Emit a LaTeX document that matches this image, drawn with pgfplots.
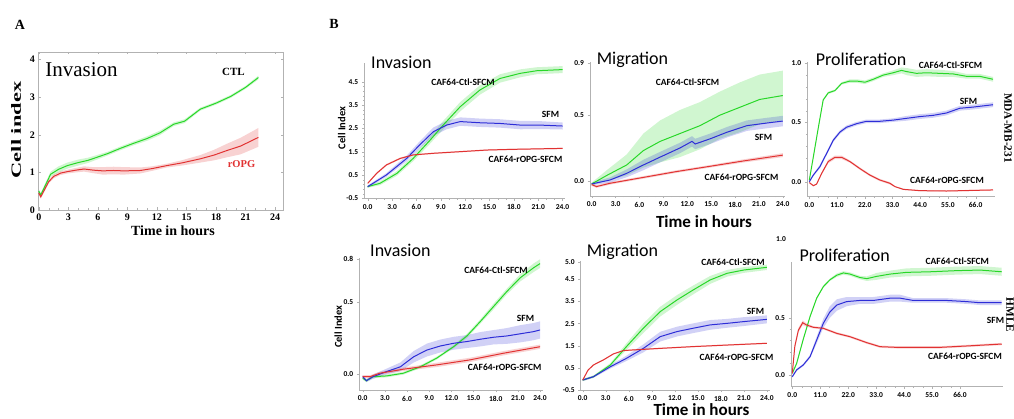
\documentclass[border=0pt]{standalone}
\usepackage{fontspec}
\setmainfont{Carlito}
\newfontfamily\tnr{Liberation Serif}
\usepackage{graphicx}
\usepackage{pgfplots}
\usepgfplotslibrary{fillbetween}
\pgfplotsset{compat=1.18}
\usepackage{pgfplotstable}

\definecolor{cgreen}{RGB}{40,215,40}
\definecolor{cblue}{RGB}{45,45,215}
\definecolor{cred}{RGB}{225,50,50}

% panel A
\pgfplotstableread{
t y e
0 0.50 0.05
0.2 0.40 0.05
0.6 0.62 0.06
1.2 0.95 0.07
2.0 1.08 0.08
2.9 1.18 0.08
4.0 1.26 0.08
5.0 1.32 0.07
5.9 1.40 0.06
7.0 1.50 0.05
8.3 1.64 0.05
9.5 1.76 0.05
11.0 1.90 0.06
12.3 2.05 0.06
13.7 2.28 0.05
14.8 2.36 0.05
16.4 2.68 0.04
18.0 2.84 0.04
19.5 3.02 0.04
21.0 3.26 0.04
22.3 3.52 0.05
}\AG
\pgfplotstableread{
t y e
0 0.45 0.05
0.2 0.35 0.05
0.5 0.50 0.05
1.0 0.75 0.05
1.5 0.89 0.05
2.2 0.98 0.05
2.9 1.02 0.05
3.8 1.06 0.06
4.6 1.09 0.07
5.5 1.06 0.08
6.5 1.04 0.10
7.6 1.05 0.10
8.6 1.04 0.10
10.3 1.05 0.08
11.5 1.10 0.06
13.0 1.18 0.05
14.5 1.25 0.07
16.4 1.36 0.10
17.8 1.46 0.14
19.1 1.58 0.18
20.5 1.70 0.22
22.3 1.93 0.25
}\AR

% B, top left: invasion
\pgfplotstableread{
t y e
0 0.0 0.05
1.5 0.14 0.08
3.6 0.57 0.10
5.6 1.21 0.12
7.7 2.00 0.15
9.3 2.64 0.18
11.4 3.43 0.20
13.8 4.14 0.20
16.3 4.64 0.18
18.8 4.86 0.17
20.8 4.97 0.15
24.0 5.02 0.15
}\IaG
\pgfplotstableread{
t y e
0 0.0 0.05
2.3 0.50 0.08
4.8 1.21 0.12
6.4 1.79 0.15
8.1 2.36 0.18
9.7 2.64 0.18
11.4 2.79 0.18
13.8 2.74 0.18
16.3 2.71 0.18
18.8 2.64 0.18
21.2 2.64 0.17
24.0 2.60 0.15
}\IaB
\pgfplotstableread{
t y e
0 0.14 0.03
1.1 0.57 0.04
2.3 0.93 0.04
4.0 1.21 0.04
5.6 1.36 0.03
8.1 1.43 0.03
11.4 1.50 0.03
14.7 1.57 0.03
17.9 1.60 0.03
24.0 1.64 0.03
}\IaR

% B, top middle: migration
\pgfplotstableread{
t y e
0 -0.025 0.01
1.9 0.04 0.04
4.4 0.12 0.08
6.5 0.23 0.13
8.6 0.30 0.16
11.1 0.36 0.18
13.6 0.42 0.18
16.1 0.50 0.18
18.6 0.56 0.19
21.1 0.62 0.19
24.0 0.65 0.19
}\MaG
\pgfplotstableread{
t y e
0 -0.025 0.01
2.3 0.005 0.02
4.4 0.056 0.03
6.5 0.12 0.04
8.6 0.18 0.04
11.1 0.25 0.04
12.6 0.30 0.04
13.0 0.28 0.04
14.9 0.32 0.04
17.0 0.37 0.04
19.5 0.42 0.04
22.0 0.44 0.04
24.0 0.455 0.04
}\MaB
\pgfplotstableread{
t y e
0 -0.03 0.01
0.6 -0.045 0.01
2.3 -0.02 0.01
6.5 0.025 0.01
10.7 0.07 0.01
14.9 0.11 0.01
19.0 0.15 0.012
24.0 0.195 0.015
}\MaR

% B, top right: proliferation
\pgfplotstableread{
t y e
0 0.014 0.01
1.6 0.21 0.01
3.6 0.46 0.01
5.5 0.69 0.01
7.5 0.75 0.01
10.2 0.77 0.01
12.8 0.83 0.01
16.1 0.85 0.015
18.8 0.85 0.015
22.1 0.84 0.015
25.4 0.865 0.015
29.3 0.90 0.015
33.3 0.92 0.02
36.6 0.94 0.025
38.6 0.93 0.03
42.5 0.915 0.03
46.5 0.92 0.03
51.8 0.915 0.03
57.1 0.91 0.025
62.4 0.89 0.02
67.6 0.89 0.02
72.9 0.865 0.02
}\PaG
\pgfplotstableread{
t y e
0 0.0 0.01
1.6 0.056 0.01
4.2 0.127 0.015
6.9 0.24 0.015
9.5 0.35 0.015
12.2 0.42 0.015
14.8 0.46 0.015
18.8 0.49 0.015
22.7 0.51 0.015
28.0 0.51 0.015
33.3 0.52 0.015
38.6 0.535 0.02
43.9 0.55 0.02
49.1 0.56 0.02
54.4 0.58 0.02
59.7 0.62 0.02
65.0 0.63 0.02
72.9 0.65 0.02
}\PaB
\pgfplotstableread{
t y e
0 -0.008 0.005
1.6 -0.034 0.005
2.9 -0.02 0.005
4.9 0.07 0.01
7.5 0.17 0.015
10.2 0.206 0.015
12.8 0.206 0.015
16.1 0.17 0.01
20.1 0.11 0.01
24.0 0.056 0.01
28.0 0.014 0.01
32.0 -0.014 0.01
34.0 -0.042 0.005
37.3 -0.065 0.005
43.9 -0.076 0.005
54.4 -0.079 0.005
72.9 -0.07 0.005
}\PaR

% B, bottom left: invasion
\pgfplotstableread{
t y e
0 -0.03 0.01
0.5 -0.047 0.01
1.4 -0.019 0.01
3.2 -0.014 0.01
5.5 0.005 0.01
7.8 0.05 0.01
10.0 0.11 0.01
12.3 0.19 0.01
14.1 0.265 0.015
15.9 0.365 0.015
17.7 0.47 0.02
19.5 0.575 0.02
21.3 0.67 0.025
23.1 0.74 0.03
24.0 0.77 0.03
}\IbG
\pgfplotstableread{
t y e
0 -0.019 0.01
0.5 -0.047 0.01
1.4 -0.019 0.015
3.2 0.016 0.02
5.1 0.05 0.03
6.9 0.12 0.04
8.7 0.167 0.045
10.5 0.195 0.045
12.3 0.214 0.045
14.1 0.226 0.045
15.9 0.242 0.05
17.7 0.256 0.05
19.5 0.265 0.055
21.3 0.28 0.06
23.1 0.295 0.06
24.0 0.307 0.06
}\IbB
\pgfplotstableread{
t y e
0 -0.019 0.01
1.0 -0.019 0.01
2.3 0.005 0.01
5.5 0.033 0.012
10.0 0.063 0.015
14.5 0.098 0.015
19.0 0.144 0.015
24.0 0.19 0.015
}\IbR

% B, bottom middle: migration
\pgfplotstableread{
t y e
0 -0.05 0.05
1.4 0.10 0.05
3.6 0.63 0.08
5.7 1.46 0.15
7.9 2.29 0.22
10.1 3.04 0.22
12.3 3.57 0.22
14.4 4.02 0.20
16.6 4.47 0.18
18.8 4.77 0.15
21.0 4.92 0.13
24.0 5.04 0.12
}\MbG
\pgfplotstableread{
t y e
0 -0.05 0.05
1.4 0.10 0.05
3.6 0.55 0.08
5.7 0.93 0.12
7.9 1.38 0.18
10.1 1.91 0.22
12.3 2.14 0.22
14.4 2.29 0.22
16.6 2.44 0.22
18.8 2.51 0.20
21.0 2.59 0.20
24.0 2.69 0.18
}\MbB
\pgfplotstableread{
t y e
0 -0.05 0.03
0.7 0.40 0.03
1.4 0.63 0.03
2.7 0.86 0.03
4.0 1.13 0.03
5.3 1.28 0.03
6.6 1.31 0.03
10.1 1.38 0.03
14.4 1.46 0.03
18.8 1.53 0.03
24.0 1.61 0.03
}\MbR

% B, bottom right: proliferation
\pgfplotstableread{
t y e
0 0.015 0.01
1.7 0.10 0.01
4.3 0.31 0.01
7.0 0.51 0.01
9.6 0.67 0.01
12.2 0.77 0.01
14.8 0.83 0.01
17.5 0.87 0.015
20.1 0.89 0.015
22.7 0.88 0.015
26.6 0.85 0.015
29.3 0.84 0.02
33.2 0.86 0.03
38.5 0.88 0.03
45.0 0.895 0.035
54.2 0.90 0.035
64.7 0.91 0.035
73.9 0.915 0.035
82.4 0.90 0.035
}\PbG
\pgfplotstableread{
t y e
0 -0.015 0.01
1.7 0.044 0.01
4.3 0.087 0.01
7.0 0.16 0.015
9.6 0.305 0.03
12.2 0.45 0.04
14.8 0.55 0.05
17.5 0.61 0.05
21.4 0.64 0.04
26.6 0.65 0.03
31.9 0.65 0.03
38.5 0.67 0.03
42.4 0.67 0.03
47.6 0.65 0.02
54.2 0.65 0.02
60.8 0.65 0.02
68.6 0.64 0.02
73.9 0.63 0.02
82.4 0.63 0.02
}\PbB
\pgfplotstableread{
t y e
0 0.015 0.01
1.0 0.25 0.02
2.4 0.39 0.02
4.1 0.456 0.02
5.6 0.436 0.015
8.3 0.416 0.01
12.2 0.407 0.01
17.5 0.363 0.01
22.7 0.334 0.01
29.3 0.282 0.01
34.5 0.247 0.01
41.1 0.241 0.01
50.3 0.241 0.01
58.1 0.241 0.01
68.6 0.253 0.01
82.4 0.27 0.01
}\PbR

% one curve with its error band
\newcommand\series[3]{%
  \addplot[name path=u#3, draw=none, forget plot] table[x=t, y expr=\thisrow{y}+\thisrow{e}] {#1};
  \addplot[name path=l#3, draw=none, forget plot] table[x=t, y expr=\thisrow{y}-\thisrow{e}] {#1};
  \addplot[fill=#2, fill opacity=0.22, draw=none, forget plot] fill between[of=u#3 and l#3];
  \addplot[#2, line width=1pt, forget plot] table[x=t, y=y] {#1};
}

\pgfplotsset{
  bpanel/.style={
    scale only axis, anchor=south west,
    axis x line*=bottom, axis y line*=left,
    axis line style={gray!60, line width=0.6pt},
    tick style={gray!60},
    tick align=outside,
    major tick length=2.5pt, minor tick length=1.5pt,
    minor y tick num=4, minor x tick num=2,
    ticklabel style={font=\bfseries\fontsize{7.5}{8}\selectfont},
    /pgf/number format/assume math mode=true,
    /pgf/number format/fixed, /pgf/number format/fixed zerofill,
    /pgf/number format/precision=1,
    xtick distance=3,
  },
}

\newcommand\tl{\bfseries\fontsize{9.5}{10}\selectfont}
\newcommand\ti{\fontsize{18}{20}\selectfont}

\begin{document}
\begin{tikzpicture}[x=1pt, y=1pt]

% ---------------- panel A
\begin{axis}[
  at={(38.3pt,209pt)}, anchor=south west, scale only axis,
  width=244.7pt, height=158pt,
  xmin=-0.05, xmax=24.8, ymin=0, ymax=4.2,
  xtick={0,3,...,24}, ytick={0,1,2,3,4},
  minor x tick num=2,
  axis line style={gray!60}, tick style={gray!60},
  tick align=inside, major tick length=2.5pt, minor tick length=1.5pt,
  ticklabel style={font=\tnr\bfseries\fontsize{10}{11}\selectfont},
  /pgf/number format/assume math mode=true,
]
\series{\AG}{cgreen}{a1}
\series{\AR}{cred}{a2}
\end{axis}
\node[font=\tnr\bfseries\fontsize{14}{15}\selectfont] at (20,394) {A};
\node[font=\tnr\fontsize{21}{22}\selectfont] at (81.5,349) {Invasion};
\node[font=\tnr\bfseries\fontsize{11}{12}\selectfont] at (233.5,347) {CTL};
\node[font=\tnr\bfseries\fontsize{10.5}{11}\selectfont, text=cred] at (241.5,255) {rOPG};
\node[font=\tnr\bfseries\fontsize{14}{15}\selectfont, rotate=90] at (16,289) {\scalebox{1.6}[1]{Cell index}};
\node[font=\tnr\bfseries\fontsize{14}{15}\selectfont] at (173,188) {Time in hours};

\node[font=\tnr\bfseries\fontsize{14}{15}\selectfont] at (334,395) {B};

% ---------------- B top left
\begin{axis}[bpanel, at={(364.3pt,220.7pt)}, width=200.7pt, height=135pt,
  xmin=-0.42, xmax=24.3, ymin=-0.5, ymax=5.29,
  ytick={-0.5,0.5,1.5,2.5,3.5,4.5}]
\series{\IaG}{cgreen}{b1}
\series{\IaB}{cblue}{b2}
\series{\IaR}{cred}{b3}
\end{axis}
% ---------------- B top middle
\begin{axis}[bpanel, at={(590pt,223pt)}, width=195pt, height=134pt,
  xmin=-0.21, xmax=24.28, ymin=-0.117, ymax=0.906,
  ytick={0,0.5,0.9}]
\series{\MaG}{cgreen}{c1}
\series{\MaB}{cblue}{c2}
\series{\MaR}{cred}{c3}
\end{axis}
% ---------------- B top right
\begin{axis}[bpanel, at={(807.3pt,222.3pt)}, width=187.7pt, height=134.7pt,
  xmin=-0.8, xmax=73.7, ymin=-0.127, ymax=1.011,
  xtick={0,11,...,66}, ytick={0,0.5,1}]
\series{\PaG}{cgreen}{d1}
\series{\PaB}{cblue}{d2}
\series{\PaR}{cred}{d3}
\end{axis}
% ---------------- B bottom left
\begin{axis}[bpanel, at={(359.3pt,29pt)}, width=183.7pt, height=131.7pt,
  xmin=-0.46, xmax=24.4, ymin=-0.112, ymax=0.807,
  ytick={0,0.5,0.8}]
\series{\IbG}{cgreen}{e1}
\series{\IbB}{cblue}{e2}
\series{\IbR}{cred}{e3}
\end{axis}
% ---------------- B bottom middle
\begin{axis}[bpanel, at={(580.7pt,29pt)}, width=189.3pt, height=129.3pt,
  xmin=-0.26, xmax=24.4, ymin=-0.5, ymax=5.34,
  ytick={-0.5,0.5,1.5,2.5,3.5,4.5,5.27},
  yticklabels={-0.5,0.5,1.5,2.5,3.5,4.5,5.0}]
\series{\MbG}{cgreen}{f1}
\series{\MbB}{cblue}{f2}
\series{\MbR}{cred}{f3}
\end{axis}
% ---------------- B bottom right
\begin{axis}[bpanel, at={(791pt,32.3pt)}, width=212pt, height=125pt,
  xmin=-0.5, xmax=82.9, ymin=-0.102, ymax=0.988,
  xtick={0,11,...,66}, ytick={0,0.5}]
\series{\PbG}{cgreen}{g1}
\series{\PbB}{cblue}{g2}
\series{\PbR}{cred}{g3}
\end{axis}
\node[font=\bfseries\fontsize{7.5}{8}\selectfont] at (781,180) {1.0};

% titles
\node[anchor=base west, font=\ti] at (367.7,350) {Invasion};
\node[anchor=base west, font=\ti] at (593.3,354) {Migration};
\node[anchor=base west, font=\ti] at (812.3,353) {Proliferation};
\node[anchor=base west, font=\ti] at (366.7,162.3) {Invasion};
\node[anchor=base west, font=\ti] at (583.3,162.3) {Migration};
\node[anchor=base west, font=\ti] at (796,157.3) {Proliferation};

% curve labels
\node[font=\tl] at (463,337) {CAF64-Ctl-SFCM};
\node[font=\tl] at (550.5,305) {SFM};
\node[font=\tl] at (525.5,260) {CAF64-rOPG-SFCM};
\node[font=\tl] at (687.5,336.3) {CAF64-Ctl-SFCM};
\node[font=\tl] at (763.5,282) {SFM};
\node[font=\tl] at (741.5,241.3) {CAF64-rOPG-SFCM};
\node[font=\tl] at (950.5,354) {CAF64-Ctl-SFCM};
\node[font=\tl] at (968.5,317.3) {SFM};
\node[font=\tl] at (947,239) {CAF64-rOPG-SFCM};
\node[font=\tl] at (496,149) {CAF64-Ctl-SFCM};
\node[font=\tl] at (525.5,100.7) {SFM};
\node[font=\tl] at (504.7,51.7) {CAF64-rOPG-SFCM};
\node[font=\tl] at (733,156.7) {CAF64-Ctl-SFCM};
\node[font=\tl] at (755.5,107.3) {SFM};
\node[font=\tl] at (736.5,61.7) {CAF64-rOPG-SFCM};
\node[font=\tl] at (957.3,157.3) {CAF64-Ctl-SFCM};
\node[font=\tl] at (995.5,99) {SFM};
\node[font=\tl] at (965,62.3) {CAF64-rOPG-SFCM};

% axis titles
\node[font=\bfseries\fontsize{10.5}{11}\selectfont, rotate=90] at (341.7,291) {Cell Index};
\node[font=\bfseries\fontsize{10.5}{11}\selectfont, rotate=90] at (338.3,92.3) {Cell Index};
\node[anchor=base, font=\bfseries\fontsize{17}{18}\selectfont] at (704,191) {Time in hours};
\node[anchor=base, font=\bfseries\fontsize{17}{18}\selectfont] at (701.5,3) {Time in hours};

% cell lines
\node[font=\tnr\bfseries\fontsize{11.3}{12}\selectfont, rotate=-90] at (1008,291) {MDA-MB-231};
\node[font=\tnr\bfseries\fontsize{11.3}{12}\selectfont, rotate=-90] at (1010,104) {HMLE};

\pgfresetboundingbox
\path (0,0) rectangle (1014,419);
\end{tikzpicture}
\end{document}
